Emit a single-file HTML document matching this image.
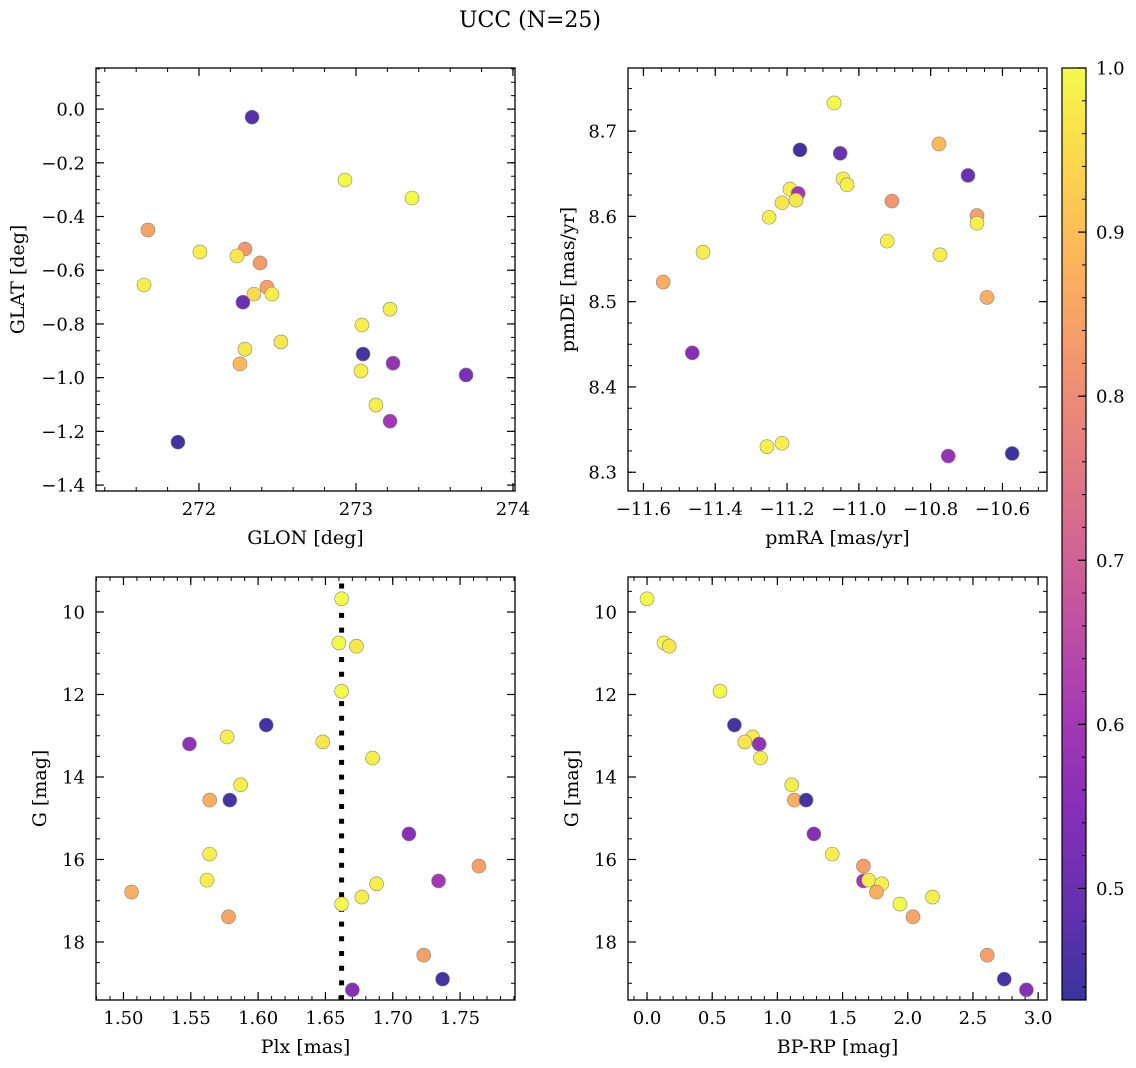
<!DOCTYPE html>
<html><head><meta charset="utf-8"><style>
html,body{margin:0;padding:0;background:#fff}
svg{display:block;font-family:"DejaVu Serif","Liberation Serif",serif}
</style></head><body>
<svg id="fig" width="1136" height="1068" viewBox="0 0 1136 1068">
<text x="530" y="27" text-anchor="middle" font-size="22">UCC (N=25)</text>
</svg>
<script>
// ---- data ----
const glon = [272.338,272.930,273.357,271.675,272.006,272.293,272.242,272.389,271.650,272.433,272.350,272.465,272.280,273.217,273.038,272.522,272.293,273.045,272.261,273.236,273.032,273.701,273.127,273.217,271.866];
const glat = [-0.030,-0.264,-0.331,-0.450,-0.532,-0.521,-0.547,-0.573,-0.655,-0.663,-0.689,-0.689,-0.719,-0.745,-0.804,-0.867,-0.894,-0.912,-0.949,-0.946,-0.975,-0.990,-1.102,-1.162,-1.240];
const probA = [0.47,1.0,1.0,0.85,0.98,0.82,0.97,0.83,0.98,0.84,0.95,0.98,0.5,0.98,0.98,0.97,0.97,0.45,0.89,0.57,0.98,0.53,0.98,0.6,0.44];

const pmra = [-11.069,-11.164,-11.052,-10.777,-10.696,-11.192,-11.169,-11.044,-11.033,-11.214,-11.175,-10.908,-11.250,-10.671,-10.671,-10.921,-11.434,-10.774,-11.545,-10.643,-11.464,-11.256,-11.214,-10.751,-10.573];
const pmde = [8.733,8.678,8.674,8.685,8.648,8.632,8.627,8.644,8.637,8.616,8.619,8.618,8.599,8.601,8.592,8.571,8.558,8.555,8.523,8.505,8.440,8.330,8.334,8.319,8.322];
const probB = [1.0,0.44,0.5,0.89,0.5,0.98,0.6,0.98,0.98,0.97,0.97,0.82,0.98,0.84,0.98,0.98,0.98,0.98,0.87,0.87,0.55,0.98,0.98,0.58,0.44];

const plx = [1.662,1.660,1.673,1.662,1.606,1.577,1.549,1.648,1.685,1.587,1.564,1.579,1.712,1.564,1.506,1.562,1.764,1.734,1.688,1.662,1.677,1.578,1.723,1.737,1.670];
const gmagC = [9.68,10.75,10.83,11.92,12.74,13.03,13.20,13.15,13.54,14.19,14.56,14.56,15.38,15.87,16.79,16.50,16.16,16.52,16.59,17.08,16.91,17.39,18.32,18.90,19.16];
const probC = [1.0,1.0,0.97,1.0,0.45,0.98,0.57,0.97,0.98,0.98,0.87,0.45,0.55,0.98,0.87,0.98,0.84,0.6,0.98,1.0,0.98,0.85,0.84,0.45,0.55];
const plxMedian = 1.662;

const bprp = [0.00,0.13,0.17,0.56,0.67,0.81,0.75,0.86,0.87,1.11,1.13,1.22,1.28,1.42,1.66,1.66,1.70,1.80,1.76,1.94,2.19,2.04,2.61,2.74,2.91];
const gmagD = [9.68,10.75,10.83,11.92,12.74,13.03,13.15,13.20,13.54,14.19,14.56,14.56,15.38,15.87,16.16,16.52,16.50,16.59,16.79,17.08,16.91,17.39,18.32,18.90,19.16];
const probD = [1.0,1.0,0.97,1.0,0.45,0.98,0.97,0.57,0.98,0.98,0.87,0.45,0.55,0.98,0.84,0.6,0.98,0.98,0.87,1.0,0.98,0.85,0.84,0.45,0.55];

const cbTicks = [0.5,0.6,0.7,0.8,0.9,1.0];
const cMin = 0.432, cMax = 1.0;

// ---- helpers ----
const NS = "http://www.w3.org/2000/svg";
const fig = document.getElementById('fig');
function mk(tag, attrs, parent){const e=document.createElementNS(NS,tag);for(const k in attrs)e.setAttribute(k,attrs[k]);(parent||fig).appendChild(e);return e;}
const plasma=[[13,8,135],[65,4,157],[106,0,168],[143,13,164],[177,42,144],[204,71,120],[225,100,98],[242,132,75],[252,166,54],[252,206,37],[240,249,33]];
function cmap(v){let t=(v-cMin)/(cMax-cMin);t=Math.max(0,Math.min(1,t));const f=t*10,i=Math.min(9,Math.floor(f)),r=f-i;const a=plasma[i],b=plasma[i+1];
 const c=[0,1,2].map(k=>Math.round((a[k]+(b[k]-a[k])*r)*0.82+255*0.18));return `rgb(${c[0]},${c[1]},${c[2]})`;}
function fmt(v,d){const s=v.toFixed(d);return v<0?'\u2212'+s.slice(1):s;}

function panel(name,box,xr,yr,xt,xmin,xd,yt,ymin,yd,xlabel,ylabel,ytx,xs,ys,cs){
  const [L,T,R,B]=box;
  const sx=v=>L+(v-xr[0])/(xr[1]-xr[0])*(R-L);
  const sy=v=>B-(v-yr[0])/(yr[1]-yr[0])*(B-T);
  const g=mk('g',{});
  
  
  const xlo=Math.min(xr[0],xr[1]),xhi=Math.max(xr[0],xr[1]),ylo=Math.min(yr[0],yr[1]),yhi=Math.max(yr[0],yr[1]);
  for(let v=Math.ceil(xlo/xmin)*xmin;v<=xhi+1e-9;v+=xmin){const x=sx(v);mk('line',{x1:x,x2:x,y1:B,y2:B-4,stroke:'#000','stroke-width':1},g);mk('line',{x1:x,x2:x,y1:T,y2:T+4,stroke:'#000','stroke-width':1},g);}
  for(let v=Math.ceil(ylo/ymin)*ymin;v<=yhi+1e-9;v+=ymin){const y=sy(v);mk('line',{x1:L,x2:L+4,y1:y,y2:y,stroke:'#000','stroke-width':1},g);mk('line',{x1:R,x2:R-4,y1:y,y2:y,stroke:'#000','stroke-width':1},g);}
  xt.forEach(v=>{const x=sx(v);mk('line',{x1:x,x2:x,y1:B,y2:B-8,stroke:'#000','stroke-width':1.2},g);mk('line',{x1:x,x2:x,y1:T,y2:T+8,stroke:'#000','stroke-width':1.2},g);
    const t=mk('text',{x:x,y:B+24,'text-anchor':'middle','font-size':18},g);t.textContent=fmt(v,xd);
    
    });
  yt.forEach(v=>{const y=sy(v);mk('line',{x1:L,x2:L+8,y1:y,y2:y,stroke:'#000','stroke-width':1.2},g);mk('line',{x1:R,x2:R-8,y1:y,y2:y,stroke:'#000','stroke-width':1.2},g);
    const t=mk('text',{x:L-11,y:y+6.5,'text-anchor':'end','font-size':18},g);t.textContent=fmt(v,yd);
    
    });
  const xl=mk('text',{x:(L+R)/2,y:B+53,'text-anchor':'middle','font-size':19},g);xl.textContent=xlabel;
  
  
  const cy=(T+B)/2;
  const yl=mk('text',{x:ytx,y:cy,'text-anchor':'middle','dominant-baseline':'central','font-size':19,transform:`rotate(-90 ${ytx} ${cy})`},g);yl.textContent=ylabel;
  
  
  return {g,sx,sy,draw(){
    xs.forEach((v,i)=>{const c=mk('circle',{cx:sx(v),cy:sy(ys[i]),r:7,fill:cmap(cs[i]),stroke:'#888','stroke-width':0.6},g);
      
      });
    const fr=mk('rect',{x:L,y:T,width:R-L,height:B-T,fill:'none',stroke:'#000','stroke-width':1.3},g);
    
    
  }};
}

const p1=panel('glon-glat-panel',[96,68,515,491],[271.344,274.013],[-1.422,0.153],[272,273,274],0.2,0,[0,-0.2,-0.4,-0.6,-0.8,-1.0,-1.2,-1.4],0.05,1,'GLON [deg]','GLAT [deg]',18,glon,glat,probA);
p1.draw();
const p2=panel('proper-motion-panel',[628,68,1047,491],[-11.643,-10.476],[8.278,8.774],[-11.6,-11.4,-11.2,-11.0,-10.8,-10.6],0.05,1,[8.3,8.4,8.5,8.6,8.7],0.025,1,'pmRA [mas/yr]','pmDE [mas/yr]',568,pmra,pmde,probB);
p2.draw();
const p3=panel('parallax-panel',[96,577,515,1000],[1.4796,1.7908],[19.406,9.152],[1.50,1.55,1.60,1.65,1.70,1.75],0.01,2,[10,12,14,16,18],0.5,0,'Plx [mas]','G [mag]',40,plx,gmagC,probC);
const mx=p3.sx(plxMedian);
const ml=mk('line',{x1:mx,x2:mx,y1:583.5,y2:1000,stroke:'#000','stroke-width':5,'stroke-dasharray':'5 9.7'},p3.g);


p3.draw();
const p4=panel('cmd-panel',[628,577,1047,1000],[-0.146,3.068],[19.406,9.152],[0,0.5,1,1.5,2,2.5,3],0.1,1,[10,12,14,16,18],0.5,0,'BP-RP [mag]','G [mag]',572,bprp,gmagD,probD);
p4.draw();

// colorbar
const cb=mk('g',{});


const CL=1062,CR=1086,CT=68,CB=1000;
const defs=mk('defs',{},cb);
const lg=mk('linearGradient',{id:'cbg',x1:0,y1:1,x2:0,y2:0},defs);
for(let i=0;i<=20;i++){const v=cMin+(cMax-cMin)*i/20;mk('stop',{offset:(i/20),'stop-color':cmap(v)},lg);}
mk('rect',{x:CL,y:CT,width:CR-CL,height:CB-CT,fill:'url(#cbg)',stroke:'#000','stroke-width':1.2},cb);
const cy=v=>CB-(v-cMin)/(cMax-cMin)*(CB-CT);
for(let v=0.44;v<=1.0001;v+=0.02){mk('line',{x1:CR,x2:CR-4,y1:cy(v),y2:cy(v),stroke:'#000','stroke-width':1},cb);}
cbTicks.forEach(v=>{const y=cy(v);mk('line',{x1:CR,x2:CR-8,y1:y,y2:y,stroke:'#000','stroke-width':1.2},cb);
  const t=mk('text',{x:CR+10,y:y+6.5,'font-size':18},cb);t.textContent=v.toFixed(1);
  
  });
</script>
</body></html>
